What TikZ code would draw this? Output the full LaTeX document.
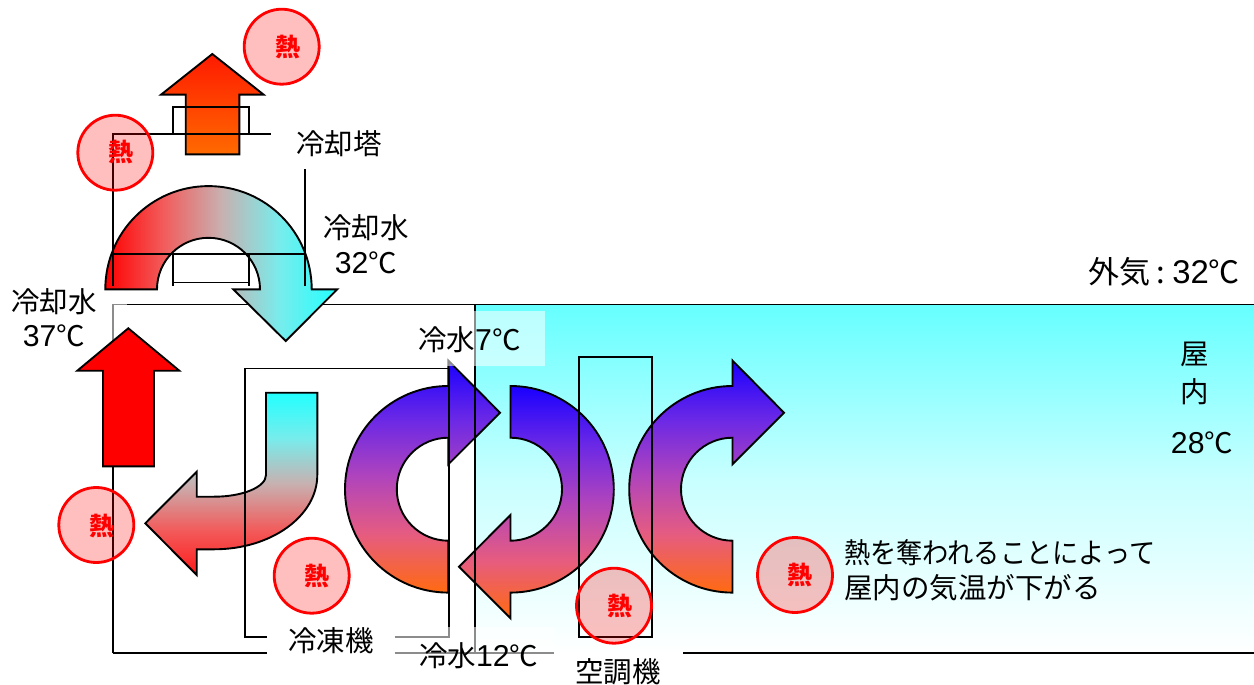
\documentclass[tikz,border=0pt]{standalone}
\usepackage{fontspec}
\setmainfont{Noto Sans CJK JP}
\newfontfamily\latinfont[Scale=1.06]{Liberation Sans}
\newcommand{\num}[1]{{\latinfont #1}}
\definecolor{flowblue}{HTML}{1A00FF}
\definecolor{flowupper}{HTML}{6A28E6}
\definecolor{flowmid}{HTML}{B044BC}
\definecolor{flowlower}{HTML}{E65C80}
\definecolor{floworange}{HTML}{FF6A10}
\definecolor{skycyan}{HTML}{66FFFF}
\definecolor{skymid}{HTML}{C8FFFF}
\definecolor{pipecyan}{HTML}{22FFFF}
\definecolor{pipelight}{HTML}{78ECEC}
\definecolor{pipemid}{HTML}{C8B0B0}
\definecolor{pipewarm}{HTML}{F25C5C}
\definecolor{pipered}{HTML}{FF1A1A}
\pgfdeclareverticalshading{flowgrad}{100bp}{
  color(0bp)=(floworange); color(25bp)=(floworange); color(37.5bp)=(flowlower);
  color(50bp)=(flowmid); color(62.5bp)=(flowupper); color(75bp)=(flowblue); color(100bp)=(flowblue)}
\pgfdeclarehorizontalshading{archgrad}{100bp}{
  color(0bp)=(red); color(25bp)=(red); color(37.5bp)=(pipewarm);
  color(50bp)=(pipemid); color(62.5bp)=(pipelight); color(75bp)=(pipecyan); color(100bp)=(pipecyan)}
\pgfdeclareverticalshading{elbowgrad}{100bp}{
  color(0bp)=(pipered); color(25bp)=(pipered); color(37.5bp)=(pipewarm);
  color(50bp)=(pipemid); color(62.5bp)=(pipelight); color(75bp)=(pipecyan); color(100bp)=(pipecyan)}
\tikzset{
  wire/.style={draw=black,line width=1.9pt},
  arrowshape/.style={draw=black,line width=1.9pt,line join=miter},
  coldhot/.style={arrowshape,shade,shading=flowgrad},
  heatdisc/.style={circle,draw=red,line width=2.8pt,fill=red,fill opacity=.25,draw opacity=1,minimum size=75pt,inner sep=0pt},
  heatmark/.style={text=red,font=\fontsize{25}{25}\selectfont\bfseries},
  label/.style={text=black,font=\fontsize{28.5}{30}\selectfont,inner sep=0pt},
  biglabel/.style={text=black,font=\fontsize{31}{32}\selectfont,inner sep=0pt},
  veil/.style={fill=white,fill opacity=.55,draw=none},
  blank/.style={fill=white,draw=none}
}
\begin{document}
\begin{tikzpicture}[x=1pt,y=-1pt]
\useasboundingbox (0,0) rectangle (1254,685);
\fill[white] (0,0) rectangle (1254,685);
% outdoor / indoor
\shade[top color=skycyan,bottom color=white,middle color=skymid] (475,304.5) rectangle (1254,653);
% building outline
\draw[wire] (113,653) -- (113,304.5) -- (1254,304.5);
\draw[wire] (113,653) -- (1254,653);
% veils and blanks that interrupt the outline
\fill[veil] (8,285) rectangle (127,353);
\fill[blank] (267,640) rectangle (395,685);
\fill[blank] (554,652) rectangle (683,685);
% arrows
\path[arrowshape,fill=red] (128.3,328.3) -- (179.3,370.7) -- (154,370.7) -- (154,466.3) -- (103,466.3) -- (103,370.7) -- (77.3,370.7) -- cycle;
\path[arrowshape,top color={rgb,255:red,255;green,26;blue,0},bottom color={rgb,255:red,255;green,106;blue,0}] (212.3,54) -- (263.7,94.7) -- (239.3,94.7) -- (239.3,154.3) -- (185.7,154.3) -- (185.7,94.7) -- (161,94.7) -- cycle;
\path[arrowshape,shade,shading=archgrad] (105.3,289.3) arc[start angle=180,end angle=360,radius=103.2] -- (337.3,289.3) -- (285.7,341) -- (233.3,289.3) -- (260,289.3) arc[start angle=0,end angle=-180,radius=51.5] -- cycle;
\path[arrowshape,shade,shading=elbowgrad] (266,392.7) -- (317.3,392.7) -- (317.3,475) arc[start angle=0,end angle=90,x radius=103,y radius=74.3] -- (196.7,549.3) -- (196.7,575) -- (145.3,523.3) -- (196.7,471.7) -- (196.7,496.7) -- (214,496.7) arc[start angle=90,end angle=0,x radius=52,y radius=21.7] -- cycle;
\path[coldhot] (448.3,386) arc[start angle=270,end angle=90,radius=103.3] -- (448.3,540.7) arc[start angle=90,end angle=270,radius=51.5] -- (448.3,464.3) -- (500,412.7) -- (448.3,360.6) -- cycle;
\path[coldhot] (510.5,386) arc[start angle=-90,end angle=90,radius=103.3] -- (510.5,618.3) -- (459,566.7) -- (510.5,515) -- (510.5,540.7) arc[start angle=90,end angle=-90,radius=51.5] -- cycle;
\path[coldhot] (732.5,386) arc[start angle=270,end angle=90,radius=103.3] -- (732.5,540.7) arc[start angle=90,end angle=270,radius=51.5] -- (732.5,464.3) -- (784,412.7) -- (732.5,360.6) -- cycle;
% cooling tower
\draw[wire] (173.3,134.3) -- (173.3,106.7) -- (249.3,106.7) -- (249.3,134.3);
\draw[wire] (270.7,134.3) -- (113,134.3) -- (113,286);
\draw[wire] (113,254) -- (305.3,254);
\draw[wire] (305.3,169) -- (305.3,286);
\draw[wire] (173.3,254) -- (173.3,286);
\draw[wire] (249.3,254) -- (249.3,286);
\draw[wire] (173.3,282.5) -- (249.3,282.5);
% chiller
\draw[wire] (267,636.7) -- (245,636.7) -- (245,368.5) -- (449,368.5) -- (449,636.7) -- (395,636.7);
% indoor boundary
\draw[wire] (475,304.5) -- (475,653);
% air handler
\draw[wire] (579,356.7) rectangle (651.7,636.7);
% veils over the cold-water labels
\fill[veil] (417,311) rectangle (545,366);
\fill[veil] (395,627) rectangle (554,675);
% heat discs
\node[heatdisc] (d1) at (281.7,46.7) {};
\node[heatdisc] (d2) at (115.3,152.7) {};
\node[heatdisc] (d3) at (96.3,525) {};
\node[heatdisc] (d4) at (311.7,575.7) {};
\node[heatdisc] (d5) at (614,605.7) {};
\node[heatdisc] (d6) at (795,575) {};
\node[heatmark] (h1) at (287.7,47) {熱};
\node[heatmark] (h2) at (121,152) {熱};
\node[heatmark] (h3) at (101.7,526) {熱};
\node[heatmark] (h4) at (317,576) {熱};
\node[heatmark] (h5) at (620,606) {熱};
\node[heatmark] (h6) at (800,575) {熱};
% labels
\node[label] (tower) at (339,144) {冷却塔};
\node[label] (cw32a) at (366,228) {冷却水};
\node[label] (cw32b) at (366,263) {\num{32}℃};
\node[label] (cw37a) at (54,302) {冷却水};
\node[label] (cw37b) at (54,336) {\num{37}℃};
\node[label,anchor=west] (cold7) at (418,340) {冷水\num{7}℃};
\node[label] (chiller) at (331,641) {冷凍機};
\node[label,anchor=west] (cold12) at (419,656) {冷水\num{12}℃};
\node[label] (ahu) at (618,672) {空調機};
\node[biglabel,anchor=east] (outside) at (1240,272) {外気\hspace{6pt}:\hspace{7pt}\num{32}℃};
\node[label] (in1) at (1195,354) {屋};
\node[label] (in2) at (1195,392) {内};
\node[label] (in3) at (1202,443) {\num{28}℃};
\node[label,anchor=west] (note1) at (844,553) {\scalebox{0.92}[1]{熱を奪われることによって}};
\node[label,anchor=west] (note2) at (844,588) {屋内の気温が下がる};
\end{tikzpicture}
\end{document}
